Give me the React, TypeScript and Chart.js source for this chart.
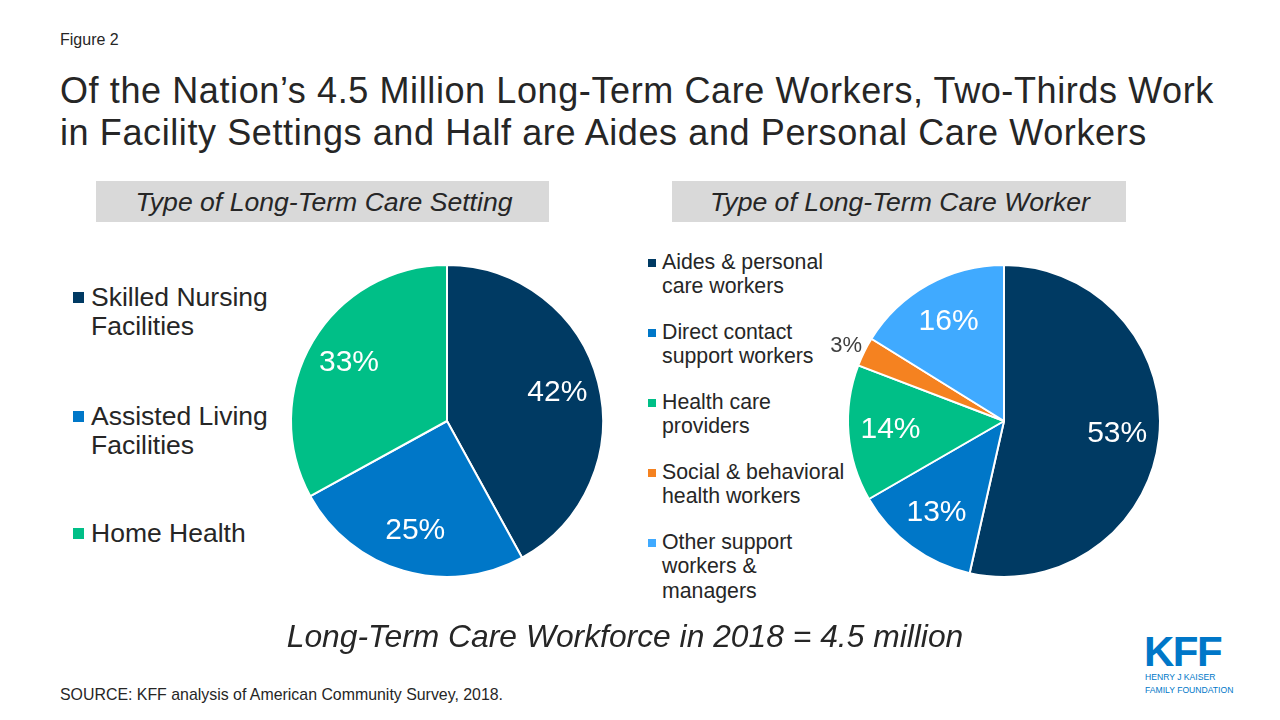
import React, { useEffect, useRef } from "react";
import { Chart, registerables } from "chart.js";

Chart.register(...registerables);

const settingLabels = ["Skilled Nursing Facilities", "Assisted Living Facilities", "Home Health"];
const settingLegendLines = [["Skilled Nursing", "Facilities"], ["Assisted Living", "Facilities"], ["Home Health"]];
const settingValues = [42, 25, 33];
const settingColors = ["#003A63", "#0077C8", "#00BF87"];

const workerLabels = [
  "Aides & personal care workers",
  "Direct contact support workers",
  "Health care providers",
  "Social & behavioral health workers",
  "Other support workers & managers",
];
const workerLegendLines = [
  ["Aides & personal", "care workers"],
  ["Direct contact", "support workers"],
  ["Health care", "providers"],
  ["Social & behavioral", "health workers"],
  ["Other support", "workers &", "managers"],
];
const workerValues = [53, 13, 14, 3, 16];
const workerColors = ["#003A63", "#0077C8", "#00BF87", "#F58220", "#40AAFF"];

const FONT = "'Liberation Sans', Arial, sans-serif";
const TEXT = "#262626";

const labelPlugin = {
  id: "pieLabels",
  afterDatasetsDraw(chart: any) {
    const ctx = chart.ctx;
    const meta = chart.getDatasetMeta(0);
    const data = chart.data.datasets[0].data as number[];
    ctx.save();
    ctx.textAlign = "center";
    ctx.textBaseline = "middle";
    meta.data.forEach((arc: any, i: number) => {
      const { x, y, startAngle, endAngle, outerRadius } = arc.getProps(
        ["x", "y", "startAngle", "endAngle", "outerRadius"],
        true
      );
      const mid = (startAngle + endAngle) / 2;
      const small = data[i] < 5;
      const d = outerRadius * (small ? 1.13 : 0.73);
      ctx.fillStyle = small ? "#404040" : "#FFFFFF";
      ctx.font = `${small ? 22 : 30}px ${FONT}`;
      ctx.fillText(`${data[i]}%`, x + Math.cos(mid) * d, y + Math.sin(mid) * d + (small ? 3 : 0));
    });
    ctx.restore();
  },
};

function Pie({ labels, values, colors, left, top }: any) {
  const ref = useRef<HTMLCanvasElement>(null);
  useEffect(() => {
    if (!ref.current) return;
    const chart = new Chart(ref.current, {
      type: "pie",
      data: {
        labels,
        datasets: [
          {
            data: values,
            backgroundColor: colors,
            borderColor: "#FFFFFF",
            borderWidth: 2,
          },
        ],
      },
      options: {
        responsive: false,
        animation: false,
        layout: { padding: 43 },
        plugins: { legend: { display: false }, tooltip: { enabled: false } },
      },
      plugins: [labelPlugin],
    } as any);
    return () => chart.destroy();
  }, []);
  return (
    <canvas
      ref={ref}
      width={400}
      height={400}
      style={{ position: "absolute", left, top, width: 400, height: 400 }}
    />
  );
}

function T({ x, base, size, children, italic, color, align, width, bold, extra }: any) {
  const style: any = {
    position: "absolute",
    top: base - 0.8465 * size,
    fontSize: size,
    lineHeight: `${size}px`,
    fontFamily: FONT,
    fontStyle: italic ? "italic" : "normal",
    fontWeight: bold ? "bold" : "normal",
    color: color || TEXT,
    whiteSpace: "nowrap",
    ...(extra || {}),
  };
  if (align === "center") {
    style.left = x - width / 2;
    style.width = width;
    style.textAlign = "center";
  } else {
    style.left = x;
  }
  return <div style={style}>{children}</div>;
}

export default function App() {
  useEffect(() => {
    document.body.style.margin = "0";
  }, []);
  return (
    <div
      style={{
        position: "absolute",
        left: 0,
        top: 0,
        width: 1280,
        height: 720,
        background: "#FFFFFF",
        overflow: "hidden",
        fontFamily: FONT,
      }}
    >
      <T x={60} base={46} size={16}>Figure 2</T>
      <T x={60} base={103} size={36} extra={{ letterSpacing: "0.6px" }}>
        Of the Nation’s 4.5 Million Long-Term Care Workers, Two-Thirds Work
      </T>
      <T x={60} base={145} size={36} extra={{ letterSpacing: "0.6px" }}>
        in Facility Settings and Half are Aides and Personal Care Workers
      </T>

      <div style={{ position: "absolute", left: 96, top: 181, width: 453, height: 41, background: "#D9D9D9" }} />
      <div style={{ position: "absolute", left: 672, top: 181, width: 454, height: 41, background: "#D9D9D9" }} />
      <T x={324} base={212} size={26.6} italic align="center" width={453}>
        Type of Long-Term Care Setting
      </T>
      <T x={900} base={212} size={26.6} italic align="center" width={454}>
        Type of Long-Term Care Worker
      </T>

      {settingLegendLines.map((lines, i) => {
        const baseY = [306, 425, 542][i];
        return (
          <React.Fragment key={settingLabels[i]}>
            <div
              style={{
                position: "absolute",
                left: 73,
                top: baseY - 14,
                width: 11,
                height: 11,
                background: settingColors[i],
              }}
            />
            {lines.map((ln, j) => (
              <T key={j} x={91} base={baseY + j * 29.5} size={26.5}>
                {ln}
              </T>
            ))}
          </React.Fragment>
        );
      })}

      {workerLegendLines.map((lines, i) => {
        const baseY = 270 + i * 70;
        return (
          <React.Fragment key={workerLabels[i]}>
            <div
              style={{
                position: "absolute",
                left: 648,
                top: baseY - 11,
                width: 8,
                height: 8,
                background: workerColors[i],
              }}
            />
            {lines.map((ln, j) => (
              <T key={j} x={662} base={baseY + j * 24.5} size={21.3}>
                {ln}
              </T>
            ))}
          </React.Fragment>
        );
      })}

      <Pie labels={settingLabels} values={settingValues} colors={settingColors} left={247} top={221} />
      <Pie labels={workerLabels} values={workerValues} colors={workerColors} left={803.5} top={221} />

      <T x={625} base={648} size={31.8} italic align="center" width={900}>
        Long-Term Care Workforce in 2018 = 4.5 million
      </T>
      <T x={60} base={700} size={15.9}>
        SOURCE: KFF analysis of American Community Survey, 2018.
      </T>

      <T x={1144} base={667} size={42} bold color="#0077C8" extra={{ letterSpacing: "-1.5px" }}>
        KFF
      </T>
      <T x={1145} base={680} size={8.6} color="#0077C8">
        HENRY J KAISER
      </T>
      <T x={1145} base={693} size={8.6} color="#0077C8">
        FAMILY FOUNDATION
      </T>
    </div>
  );
}
